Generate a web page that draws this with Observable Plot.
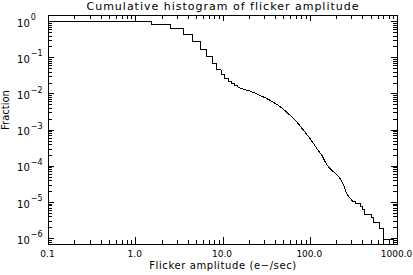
<!DOCTYPE html>
<html><head><meta charset="utf-8">
<script src="https://cdn.jsdelivr.net/npm/d3@7"></script>
<script src="https://cdn.jsdelivr.net/npm/@observablehq/plot@0.6"></script>
<style>body{margin:0;background:#fff}</style>
</head><body><div id="chart"></div>
<script>
// Head of the cumulative histogram: bin edges (e-/sec) and the fraction level after each edge
const headEdges = [1.5, 2.5, 3.5, 4.5, 5.5, 6.5, 7.5, 8.5, 9.5, 10.5, 11.5, 12.5, 13.5, 14.5];
const headLevels = [1.0, 0.826, 0.636, 0.451, 0.280, 0.1735, 0.109, 0.0684, 0.0467, 0.0335, 0.0263, 0.02245, 0.0194, 0.01708, 0.0159];
// Middle (densely stepped) part
const midX = [15.79, 18.02, 20.56, 23.46, 26.78, 30.56, 34.87, 41.62, 49.55, 59.13, 70.58, 84.0, 100.3, 119.7, 136.6, 149.0, 162.6, 177.8, 203.0, 217.4, 231.6, 246.1, 259.4, 275.7, 306.3];
const midY = [0.01447, 0.01307, 0.01196, 0.01052, 0.00892, 0.00785, 0.00661, 0.00512, 0.00373, 0.00254, 0.00166, 0.000978, 0.000569, 0.000305, 0.000199, 0.000130, 9.44e-5, 7.65e-5, 5.74e-5, 4.81e-5, 3.63e-5, 2.76e-5, 1.77e-5, 1.46e-5, 1.083e-5];
// Tail: sparse steps
const tailEdges = [329, 375, 393, 421, 502, 533, 625, 695];
const tailLevels = [9.18e-6, 7.73e-6, 6.26e-6, 4.64e-6, 3.76e-6, 2.74e-6, 1.87e-6, 9.44e-7];
const xMin = 0.1, xMax = 897;

// Axis ticks and labels
const xTickValues = [0.1, 1, 10, 100, 1000];
const xTickLabels = ["0.1", "1.0", "10.0", "100.0", "1000.0"];
const yTickValues = [1, 1e-1, 1e-2, 1e-3, 1e-4, 1e-5, 1e-6];
const yTickExps = ["0", "\u22121", "\u22122", "\u22123", "\u22124", "\u22125", "\u22126"];
const titleText = "Cumulative histogram of flicker amplitude";
const xTitle = "Flicker amplitude (e\u2212/sec)";
const yTitle = "Fraction";

// Build polyline table
const rows = [{x: xMin, y: headLevels[0]}];
headEdges.forEach((e, i) => { rows.push({x: e, y: headLevels[i]}); rows.push({x: e, y: headLevels[i + 1]}); });
midX.forEach((x, i) => rows.push({x, y: midY[i]}));
let prev = midY[midY.length - 1];
tailEdges.forEach((e, i) => { rows.push({x: e, y: prev}); rows.push({x: e, y: tailLevels[i]}); prev = tailLevels[i]; });
rows.push({x: xMax, y: prev});

const xDomain = [0.1, 1000], yDomain = [6.87e-7, 1.48];
const xMinor = [];
for (const d of [0.1, 1, 10, 100]) for (let m = 2; m <= 9; m++) xMinor.push(d * m);
const yMinor = [];
for (const d of [1e-7, 1e-6, 1e-5, 1e-4, 1e-3, 1e-2, 1e-1]) for (let m = 2; m <= 9; m++) { const v = d * m; if (v >= yDomain[0] && v <= yDomain[1]) yMinor.push(v); }

const W = 413, H = 275, mL = 48, mR = 16, mT = 15, mB = 31;
const fw = W - mL - mR, fh = H - mT - mB;
const font = "DejaVu Sans";

const chart = Plot.plot({
  width: W, height: H, marginLeft: mL, marginRight: mR, marginTop: mT, marginBottom: mB,
  style: {background: "white", color: "black", fontFamily: font, shapeRendering: "crispEdges"},
  x: {type: "log", domain: xDomain, axis: null},
  y: {type: "log", domain: yDomain, axis: null},
  marks: [
    Plot.frame({stroke: "black", strokeWidth: 1}),
    // x ticks bottom and top (inward)
    Plot.tickX(xTickValues, {x: d => d, insetTop: fh - 7, stroke: "black"}),
    Plot.tickX(xMinor, {x: d => d, insetTop: fh - 4, stroke: "black"}),
    Plot.tickX(xTickValues, {x: d => d, insetBottom: fh - 6, stroke: "black"}),
    Plot.tickX(xMinor, {x: d => d, insetBottom: fh - 3.5, stroke: "black"}),
    // y ticks left and right (inward)
    Plot.tickY(yTickValues, {y: d => d, insetRight: fw - 6, stroke: "black"}),
    Plot.tickY(yMinor, {y: d => d, insetRight: fw - 4, stroke: "black"}),
    Plot.tickY(yTickValues, {y: d => d, insetLeft: fw - 6, stroke: "black"}),
    Plot.tickY(yMinor, {y: d => d, insetLeft: fw - 4, stroke: "black"}),
    // data
    Plot.line(rows, {x: "x", y: "y", stroke: "black", strokeWidth: 1, curve: "linear"}),
    // x tick labels
    Plot.text(xTickValues, {x: d => d, text: (d, i) => xTickLabels[i], frameAnchor: "bottom", lineAnchor: "bottom", dy: 12.7, dx: -1, fontSize: 9, fill: "black"}),
    // y tick labels
    Plot.text(yTickValues, {y: d => d, text: () => "10", frameAnchor: "left", textAnchor: "end", dx: -18.7, dy: 2, fontSize: 10, fill: "black"}),
    Plot.text(yTickValues, {y: d => d, text: (d, i) => yTickExps[i], frameAnchor: "left", textAnchor: "start", dx: -17.8, dy: -4, fontSize: 8, fill: "black"}),
    // titles
    Plot.text([titleText], {frameAnchor: "top", lineAnchor: "bottom", dy: -5.5, fontSize: 11, fill: "black"}),
    Plot.text([xTitle], {frameAnchor: "bottom", lineAnchor: "bottom", dy: 24.5, fontSize: 10, fill: "black"}),
    Plot.text([yTitle], {frameAnchor: "left", lineAnchor: "bottom", rotate: -90, dx: -39.5, fontSize: 10, fill: "black"})
  ]
});
document.getElementById("chart").appendChild(chart);
d3.select(chart).selectAll("text").each(function() {
  const t = this.textContent;
  if (t === titleText) this.style.letterSpacing = "1px";
  if (t === xTitle) this.style.letterSpacing = "0.6px";
});
</script>
</body></html>
